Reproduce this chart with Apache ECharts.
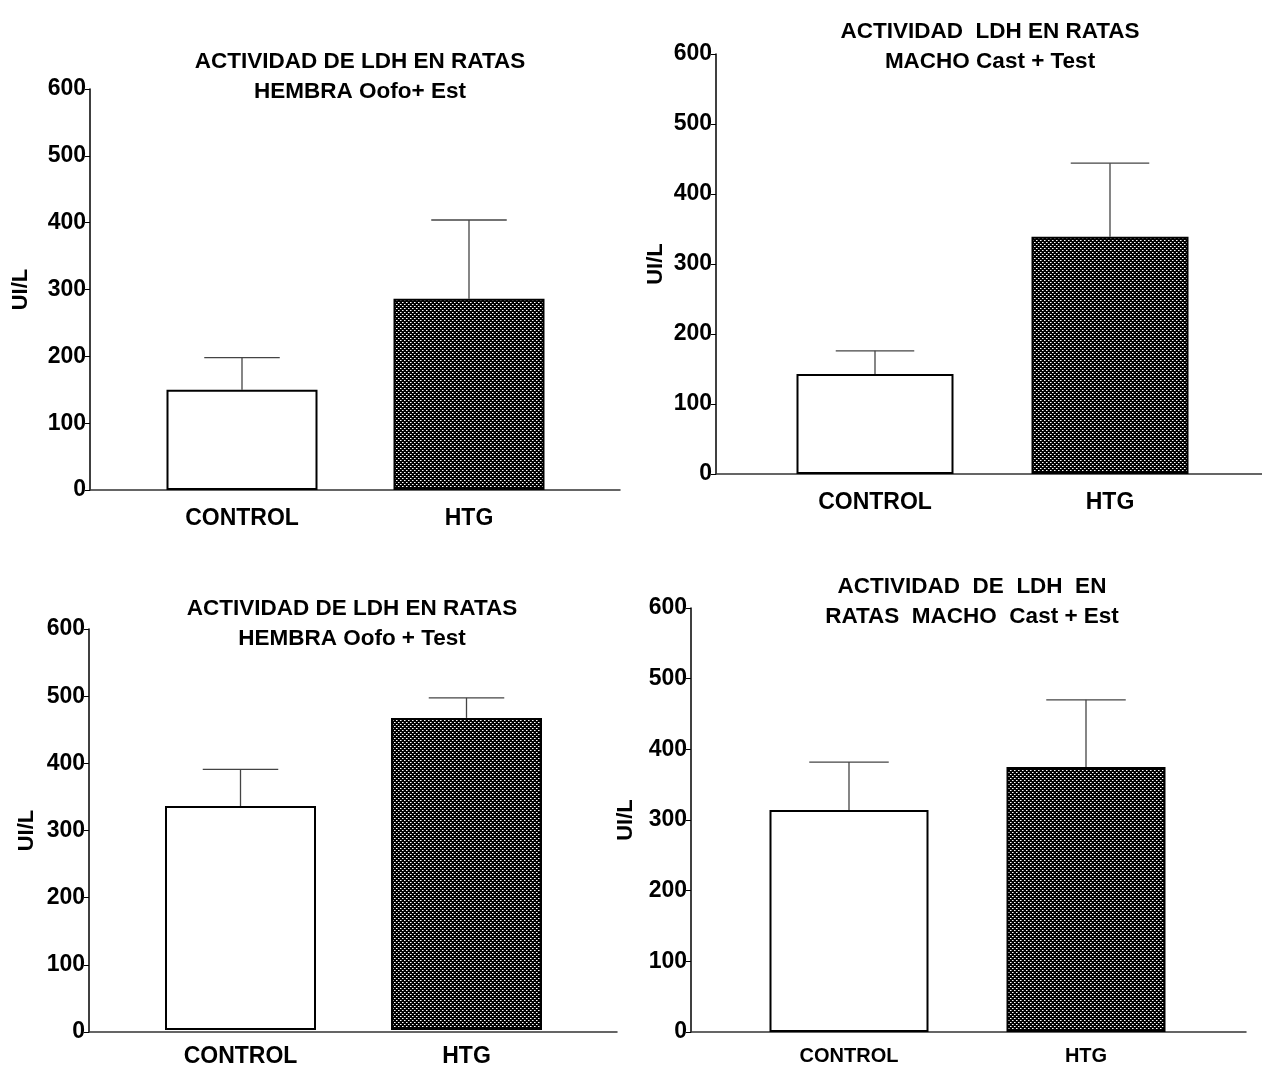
<!DOCTYPE html>
<html>
<head>
<meta charset="utf-8">
<script src="https://cdn.jsdelivr.net/npm/echarts@6/dist/echarts.min.js"></script>
<style>
html,body{margin:0;padding:0;background:#fff;}
#chart{width:1262px;height:1068px;}
</style>
</head>
<body>
<div id="chart"></div>
<script>
// ---- data ----
var categories = ['CONTROL', 'HTG'];
var yTicks = [0, 100, 200, 300, 400, 500, 600];
var yLabel = 'UI/L';

var title1 = 'ACTIVIDAD DE LDH EN RATAS\nHEMBRA Oofo+ Est';
var mean1 = [150, 286];
var err1 = [48, 118];

var title2 = 'ACTIVIDAD  LDH EN RATAS\nMACHO Cast + Test';
var mean2 = [143, 339];
var err2 = [33, 105];

var title3 = 'ACTIVIDAD DE LDH EN RATAS\nHEMBRA Oofo + Test';
var mean3 = [335, 467];
var err3 = [55, 30];

var title4 = 'ACTIVIDAD  DE  LDH  EN\nRATAS  MACHO  Cast + Est';
var mean4 = [314, 375];
var err4 = [68, 95];

// ---- styling / layout ----
var FONT = "'Liberation Sans', Arial, sans-serif";

function makePattern() {
  var c = document.createElement('canvas');
  c.width = 4; c.height = 4;
  var g = c.getContext('2d');
  g.fillStyle = '#000'; g.fillRect(0, 0, 4, 4);
  g.fillStyle = '#fff';
  g.fillRect(0, 0, 1, 1);
  g.fillRect(2, 2, 1, 1);
  g.fillStyle = '#8a8a8a';
  g.fillRect(1, 0, 1, 1);
  g.fillRect(3, 2, 1, 1);
  return c;
}
var pattern = { image: makePattern(), repeat: 'repeat' };

var panels = [
  { title: title1, mean: mean1, err: err1, axisX: 90, top: 89, bottom: 490, xEnd: 620,
    barLeft: 128.5, barSpan: 454, barWidth: 151, titleX: 355, titleY: 42, nameGap: 58,
    catSize: 23, catMargin: 17 },
  { title: title2, mean: mean2, err: err2, axisX: 716, top: 54, bottom: 474, xEnd: 1262,
    barLeft: 757.5, barSpan: 470, barWidth: 157, titleX: 985, titleY: 12, nameGap: 49,
    catSize: 23, catMargin: 17 },
  { title: title3, mean: mean3, err: err3, axisX: 89, top: 629, bottom: 1032, xEnd: 617,
    barLeft: 127.5, barSpan: 452, barWidth: 151, titleX: 347, titleY: 589, nameGap: 51,
    catSize: 23, catMargin: 15 },
  { title: title4, mean: mean4, err: err4, axisX: 691, top: 608, bottom: 1032, xEnd: 1246,
    barLeft: 730.5, barSpan: 474, barWidth: 159, titleX: 967, titleY: 567, nameGap: 54,
    catSize: 20, catMargin: 14 }
];

var option = {
  backgroundColor: '#fff',
  animation: false,
  title: [], grid: [], xAxis: [], yAxis: [], series: []
};

panels.forEach(function (p, i) {
  var gFrame = i * 2, gBar = i * 2 + 1;
  var h = p.bottom - p.top;
  option.title.push({
    text: p.title, left: p.titleX, top: p.titleY, textAlign: 'center',
    textStyle: { fontFamily: FONT, fontWeight: 'bold', fontSize: 22.5, color: '#000', lineHeight: 30 }
  });
  option.grid.push({ left: p.axisX, top: p.top, width: p.xEnd - p.axisX, height: h, containLabel: false });
  option.grid.push({ left: p.barLeft, top: p.top, width: p.barSpan, height: h, containLabel: false });

  option.xAxis.push({
    gridIndex: gFrame, type: 'value', min: 0, max: 1,
    axisLine: { show: true, lineStyle: { color: '#333', width: 1.5 } },
    axisTick: { show: false }, axisLabel: { show: false }, splitLine: { show: false }
  });
  option.yAxis.push({
    gridIndex: gFrame, type: 'value', min: yTicks[0], max: yTicks[yTicks.length - 1], interval: 100,
    name: yLabel, nameLocation: 'middle', nameGap: p.nameGap, nameRotate: 90,
    nameTextStyle: { fontFamily: FONT, fontWeight: 'bold', fontSize: 22, color: '#000' },
    axisLine: { show: true, lineStyle: { color: '#000', width: 1.5 } },
    axisTick: { show: true, inside: false, length: 5, lineStyle: { color: '#000', width: 1 } },
    axisLabel: { margin: 4, fontFamily: FONT, fontWeight: 'bold', fontSize: 23, color: '#000' },
    splitLine: { show: false }
  });

  option.xAxis.push({
    gridIndex: gBar, type: 'category', data: categories,
    axisLine: { show: false }, axisTick: { show: false },
    axisLabel: { margin: p.catMargin, fontFamily: FONT, fontWeight: 'bold', fontSize: p.catSize, color: '#000' },
    splitLine: { show: false }
  });
  option.yAxis.push({
    gridIndex: gBar, type: 'value', min: yTicks[0], max: yTicks[yTicks.length - 1], show: false
  });

  option.series.push({
    type: 'bar', xAxisIndex: gBar, yAxisIndex: gBar, barWidth: p.barWidth, z: 3,
    data: p.mean.map(function (v, k) {
      return { value: v, itemStyle: { color: k === 0 ? '#fff' : pattern, borderColor: '#000', borderWidth: 2 } };
    })
  });
  var capHalf = p.barWidth / 4;
  option.series.push({
    type: 'custom', xAxisIndex: gBar, yAxisIndex: gBar, z: 2,
    data: p.mean.map(function (v, k) { return [k, v, v + p.err[k]]; }),
    renderItem: function (params, api) {
      var base = api.coord([api.value(0), api.value(1)]);
      var topP = api.coord([api.value(0), api.value(2)]);
      var st = { stroke: '#444', lineWidth: 1.3 };
      return {
        type: 'group',
        children: [
          { type: 'line', shape: { x1: base[0], y1: base[1], x2: topP[0], y2: topP[1] }, style: st },
          { type: 'line', shape: { x1: topP[0] - capHalf, y1: topP[1], x2: topP[0] + capHalf, y2: topP[1] }, style: st }
        ]
      };
    }
  });
});

var chart = echarts.init(document.getElementById('chart'), null, { renderer: 'canvas' });
chart.setOption(option);
</script>
</body>
</html>
